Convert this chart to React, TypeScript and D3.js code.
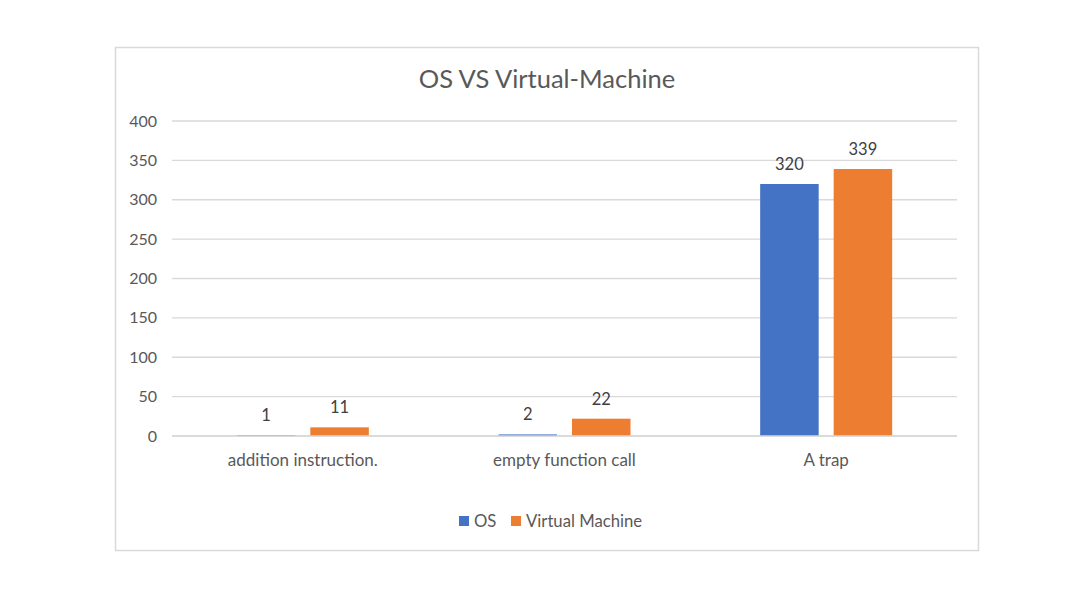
import React, { useEffect, useRef } from "react";
import * as d3 from "d3";

const categories = ["addition instruction.", "empty function call", "A trap"];
const seriesNames = ["OS", "Virtual Machine"];
const osValues = [1, 2, 320];
const vmValues = [11, 22, 339];
const yTicks = [0, 50, 100, 150, 200, 250, 300, 350, 400];
const colors = ["#4472C4", "#ED7D31"];

const W = 1067;
const H = 605;
const FONT = "Lato, 'Open Sans', sans-serif";

const App = () => {
    const svgRef = useRef(null);

    useEffect(() => {
        const svg = d3.select(svgRef.current);
        svg.selectAll("*").remove();

        // chart frame
        svg.append("rect")
            .attr("x", 115.5).attr("y", 47.5)
            .attr("width", 863).attr("height", 503)
            .attr("fill", "white")
            .attr("stroke", "#d9d9d9")
            .attr("stroke-width", 1.5);

        svg.append("text")
            .attr("x", 547).attr("y", 88)
            .attr("text-anchor", "middle")
            .attr("font-family", FONT)
            .attr("font-size", 25.5)
            .attr("fill", "#595959")
            .text("OS VS Virtual-Machine");

        const x0 = d3.scaleBand().domain(categories).range([172, 957]);
        const y = d3.scaleLinear().domain([0, 400]).range([436, 121]);
        const barW = 58.5;
        const gap = 15;

        // gridlines + y labels
        yTicks.forEach((t) => {
            svg.append("line")
                .attr("x1", 172).attr("x2", 957)
                .attr("y1", y(t)).attr("y2", y(t))
                .attr("stroke", "#d9d9d9")
                .attr("stroke-width", 1.3);
            svg.append("text")
                .attr("x", 157).attr("y", y(t))
                .attr("dy", "0.35em")
                .attr("text-anchor", "end")
                .attr("font-family", FONT)
                .attr("font-size", 16)
                .attr("fill", "#595959")
                .text(t);
        });

        const series = [osValues, vmValues];
        series.forEach((vals, si) => {
            categories.forEach((c, i) => {
                const cx = x0(c) + x0.bandwidth() / 2;
                const bx = si === 0 ? cx - gap / 2 - barW : cx + gap / 2;
                svg.append("rect")
                    .attr("x", bx)
                    .attr("y", y(vals[i]))
                    .attr("width", barW)
                    .attr("height", y(0) - y(vals[i]))
                    .attr("fill", colors[si]);
                svg.append("text")
                    .attr("x", bx + barW / 2)
                    .attr("y", y(vals[i]) - 14)
                    .attr("text-anchor", "middle")
                    .attr("font-family", FONT)
                    .attr("font-size", 16.5)
                    .attr("fill", "#404040")
                    .text(vals[i]);
            });
        });

        // baseline axis
        svg.append("line")
            .attr("x1", 172).attr("x2", 957)
            .attr("y1", y(0)).attr("y2", y(0))
            .attr("stroke", "#d9d9d9")
            .attr("stroke-width", 1.3);

        categories.forEach((c) => {
            svg.append("text")
                .attr("x", x0(c) + x0.bandwidth() / 2)
                .attr("y", 466)
                .attr("text-anchor", "middle")
                .attr("font-family", FONT)
                .attr("font-size", 17)
                .attr("fill", "#595959")
                .text(c);
        });

        // legend
        const legendX = [459, 511];
        seriesNames.forEach((s, i) => {
            svg.append("rect")
                .attr("x", legendX[i]).attr("y", 516)
                .attr("width", 10).attr("height", 10)
                .attr("fill", colors[i]);
            svg.append("text")
                .attr("x", legendX[i] + 15).attr("y", 521)
                .attr("dy", "0.35em")
                .attr("font-family", FONT)
                .attr("font-size", 16.7)
                .attr("fill", "#595959")
                .text(s);
        });
    }, []);

    return (
        <svg
            ref={svgRef}
            width={W}
            height={H}
            style={{ position: "absolute", left: 0, top: 0, background: "white" }}
        ></svg>
    );
};

export default App;
